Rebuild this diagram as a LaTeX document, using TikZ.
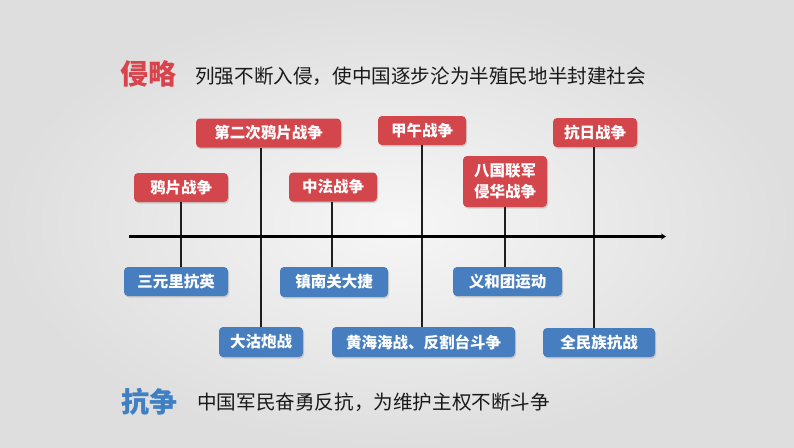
\documentclass[tikz,border=0pt]{standalone}
\usepackage{fontspec}
\newfontfamily\cjk{Noto Sans CJK SC}
\usetikzlibrary{shadows,arrows.meta}
\definecolor{boxred}{HTML}{D2464C}
\definecolor{boxblue}{HTML}{477EBF}
\definecolor{headred}{HTML}{D9434C}
\definecolor{headblue}{HTML}{3F7FC4}
\definecolor{bgin}{HTML}{F6F6F6}
\definecolor{bgout}{HTML}{DEDEDE}
\definecolor{linecol}{HTML}{1E1E1E}
\tikzset{
  evbox/.style={rounded corners=4pt, inner sep=0pt, align=center,
    text=white, font=\cjk\bfseries\fontsize{15.5}{19}\selectfont,
    drop shadow={shadow xshift=1pt, shadow yshift=-1.5pt, opacity=0.3}},
  redbox/.style={evbox, fill=boxred},
  bluebox/.style={evbox, fill=boxblue},
  vline/.style={draw=linecol, line width=2.4pt},
  tline/.style={draw=black, line width=3.6pt, -{Stealth[length=5pt,width=6pt]}},
  headtxt/.style={anchor=west, inner sep=0pt, font=\cjk\bfseries\fontsize{28}{30}\selectfont},
  subtxt/.style={anchor=west, inner sep=0pt, text={rgb,255:red,25;green,25;blue,25}, font=\cjk\fontsize{19.6}{22}\selectfont}
}
\begin{document}
\begin{tikzpicture}[x=1pt,y=-1pt]
\useasboundingbox (0,0) rectangle (794,447);
\shade[inner color=bgin, outer color=bgout] (0,0) rectangle (794,447);

% headings
\node[headtxt, text=headred] (h1) at (120,74) {侵略};
\node[subtxt] (s1) at (195,76) {列强不断入侵，使中国逐步沦为半殖民地半封建社会};
\node[headtxt, text=headblue] (h2) at (121,402) {抗争};
\node[subtxt] (s2) at (197,402) {中国军民奋勇反抗，为维护主权不断斗争};

% timeline
\coordinate (tl) at (129,236.5);
\coordinate (tr) at (666,236.5);
\coordinate (t1) at (181,236.5);
\coordinate (t2) at (261,236.5);
\coordinate (t3) at (332,236.5);
\coordinate (t4) at (422,236.5);
\coordinate (t5) at (505,236.5);
\coordinate (t6) at (594,236.5);

% red boxes
\node[redbox, minimum width=94pt, minimum height=29pt] (r1) at (181,187.5) {鸦片战争};
\node[redbox, minimum width=145pt, minimum height=29pt] (r2) at (268.5,133) {第二次鸦片战争};
\node[redbox, minimum width=88pt, minimum height=29pt] (r3) at (333,187) {中法战争};
\node[redbox, minimum width=88pt, minimum height=29pt] (r4) at (422,130.5) {甲午战争};
\node[redbox, minimum width=84pt, minimum height=51pt, font=\cjk\bfseries\fontsize{15.5}{21}\selectfont] (r5) at (505,181.5) {八国联军\\侵华战争};
\node[redbox, minimum width=84pt, minimum height=29pt] (r6) at (595,132.5) {抗日战争};

% blue boxes
\node[bluebox, minimum width=104pt, minimum height=29pt] (b1) at (176,281.5) {三元里抗英};
\node[bluebox, minimum width=84pt, minimum height=30pt] (b2) at (261,342) {大沽炮战};
\node[bluebox, minimum width=108pt, minimum height=30pt] (b3) at (334,282) {镇南关大捷};
\node[bluebox, minimum width=183pt, minimum height=30pt] (b4) at (423.5,342) {黄海海战、反割台斗争};
\node[bluebox, minimum width=109pt, minimum height=29pt] (b5) at (507.5,281.5) {义和团运动};
\node[bluebox, minimum width=112pt, minimum height=29pt] (b6) at (599,342.5) {全民族抗战};

% connectors
\draw[vline] (r1.south -| t1) -- (b1.north -| t1);
\draw[vline] (r2.south -| t2) -- (b2.north -| t2);
\draw[vline] (r3.south -| t3) -- (b3.north -| t3);
\draw[vline] (r4.south -| t4) -- (b4.north -| t4);
\draw[vline] (r5.south -| t5) -- (b5.north -| t5);
\draw[vline] (r6.south -| t6) -- (b6.north -| t6);
\draw[tline] (tl) -- (tr);
\end{tikzpicture}
\end{document}
